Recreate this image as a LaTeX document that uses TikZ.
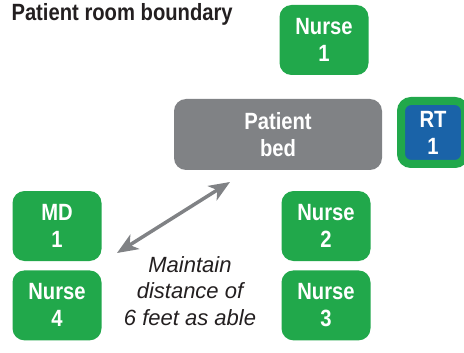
\documentclass[tikz,border=0pt]{standalone}
\usepackage{fontspec}
\setmainfont{Liberation Sans}[FakeStretch=0.86]
\newfontfamily\noteFont{Liberation Sans}
\usepackage{tikz}
\usetikzlibrary{positioning,arrows.meta}
\definecolor{staffgreen}{RGB}{33,168,75}
\definecolor{rtblue}{RGB}{26,99,168}
\definecolor{bedgray}{RGB}{128,130,133}
\definecolor{titlecolor}{RGB}{35,31,32}
\newcommand{\boxFmt}[2]{\textbf{#1}\\\textbf{#2}}

\begin{document}
\begin{tikzpicture}[x=1pt, y=-1pt,
			staff/.style={rectangle, rounded corners=12pt, fill=staffgreen, text=white, minimum width=89pt, minimum height=70pt, inner sep=0pt, align=center, font=\fontsize{23.5}{27}\selectfont},
			bedbox/.style={staff, fill=bedgray, minimum width=208pt, minimum height=71pt},
			rtbox/.style={staff, fill=rtblue, draw=staffgreen, line width=8pt, rounded corners=10pt, minimum width=64pt, minimum height=63pt},
		]

		\useasboundingbox (0,0) rectangle (464,353);

		\node[anchor=west, text=titlecolor, font=\fontsize{23.5}{26}\selectfont\bfseries] (title) at (8,14) {Patient room boundary};

		\node[staff] (nurse1)  at (324,40)     {\boxFmt{Nurse}{1}};
		\node[bedbox] (bed)    at (278,134.5)  {\boxFmt{Patient}{bed}};
		\node[rtbox] (rt)      at (433,132.5)  {\boxFmt{RT}{1}};

		\node[staff] (md1)     at (57,226)     {\boxFmt{MD}{1}};
		\node[staff] (nurse4)  [below=9pt of md1]    {\boxFmt{Nurse}{4}};
		\node[staff] (nurse2)  at (326,226)    {\boxFmt{Nurse}{2}};
		\node[staff] (nurse3)  [below=9pt of nurse2] {\boxFmt{Nurse}{3}};

		\node[align=center, text=titlecolor, font=\noteFont\fontsize{22}{26.5}\selectfont\itshape] (note) at (190,291) {Maintain\\distance of\\6 feet as able};

		\coordinate (near) at (117,253);
		\coordinate (far)  at (230,182);
		\draw[{Stealth[length=21pt,width=17pt,inset=6pt]}-{Stealth[length=21pt,width=17pt,inset=6pt]}, bedgray, line width=3.5pt] (near) -- (far);

		\end{tikzpicture}
\end{document}
